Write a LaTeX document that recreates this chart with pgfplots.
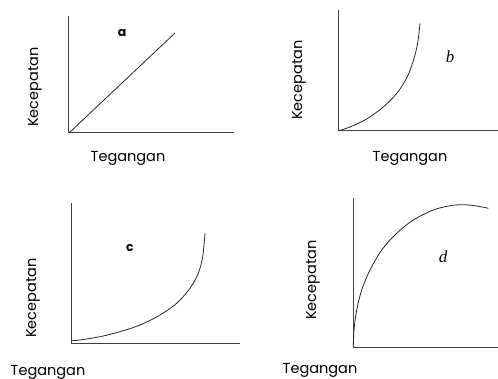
\documentclass[border=0pt]{standalone}
\usepackage{fontspec}
\setmainfont{Poppins}
\newfontfamily\seriffont{Liberation Serif}
\usepackage{pgfplots}
\pgfplotsset{compat=1.18}
\pgfplotsset{
  panel/.style={scale only axis, axis x line=bottom, axis y line=left,
    axis line style={-, line width=1pt, black!75}, ticks=none,
    enlargelimits=false, clip=false, anchor=south west},
  curve/.style={black!85, line width=0.8pt, smooth, no markers}
}
\begin{document}
\fontsize{14.5}{17}\selectfont
\begin{tikzpicture}[x=1pt,y=1pt]
\useasboundingbox (0,0) rectangle (498,379);
% a
\begin{axis}[panel, at={(69pt,246pt)}, width=165pt, height=117pt,
  xmin=0, xmax=165, ymin=0, ymax=117]
\addplot[curve] coordinates {(0,0) (106,100)};
\node[font=\bfseries\fontsize{12.5}{15}\selectfont] at (axis cs:53,100) {a};
\node[rotate=90] at (axis cs:-34,46) {Kecepatan};
\node at (axis cs:59,-25) {Tegangan};
\end{axis}
% b
\begin{axis}[panel, at={(338pt,248pt)}, width=160pt, height=121pt,
  xmin=0, xmax=160, ymin=0, ymax=121]
\addplot[curve] coordinates {(0,0) (12,4) (28.7,12) (45.3,24) (58.7,37.5)
  (68.7,53) (75.3,70) (79.7,88) (82,107.7)};
\node[font=\seriffont\itshape\fontsize{17}{19}\selectfont] at (axis cs:112,74) {b};
\node[rotate=90] at (axis cs:-39,51) {Kecepatan};
\node at (axis cs:72,-27) {Tegangan};
\end{axis}
% c
\begin{axis}[panel, at={(71pt,35pt)}, width=169pt, height=141pt,
  xmin=0, xmax=169, ymin=0, ymax=141]
\addplot[curve] coordinates {(1,3.3) (9,4) (29,7.3) (49,12.3) (69,19) (89,29)
  (105.7,40.7) (119,55.7) (127.3,70.7) (131.7,87.3) (134,110.7)};
\node[font=\bfseries\fontsize{12.5}{15}\selectfont] at (axis cs:59,96) {c};
\node[rotate=90] at (axis cs:-38,46) {Kecepatan};
\node at (axis cs:-23,-28) {Tegangan};
\end{axis}
% d
\begin{axis}[panel, at={(353pt,31pt)}, width=145pt, height=150pt,
  xmin=0, xmax=145, ymin=0, ymax=150]
\addplot[curve] coordinates {(0.3,1.3) (1,18) (3.7,38) (8.7,58) (17,78) (28.7,98)
  (43.7,114.7) (60.3,128) (80.3,138) (97,142.3) (110.3,143.3) (123.7,142) (135.3,139.7)};
\node[font=\seriffont\itshape\fontsize{17}{19}\selectfont] at (axis cs:90,91) {d};
\node[rotate=90] at (axis cs:-40,68) {Kecepatan};
\node at (axis cs:-33,-22) {Tegangan};
\end{axis}
\end{tikzpicture}
\end{document}
